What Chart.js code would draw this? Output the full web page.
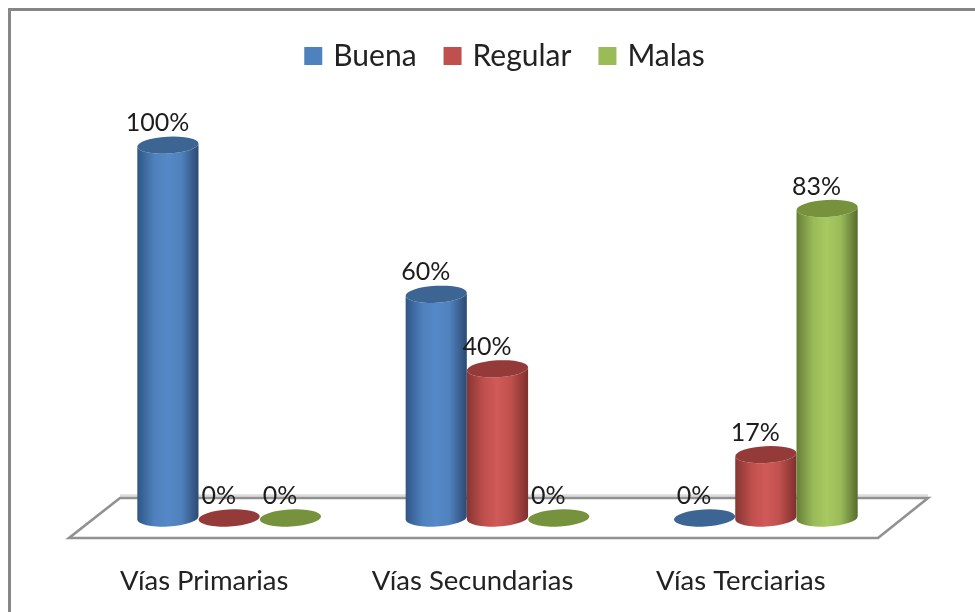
<!DOCTYPE html>
<html><head><meta charset="utf-8">
<style>html,body{margin:0;padding:0;background:#fff}canvas{display:block;filter:blur(0.45px)}</style>
<script src="https://cdn.jsdelivr.net/npm/chart.js@4"></script>
</head><body>
<canvas id="c" width="975" height="612"></canvas>
<script>
const categories = ["Vías Primarias", "Vías Secundarias", "Vías Terciarias"];
const seriesNames = ["Buena", "Regular", "Malas"];
const buena = [100, 60, 0];
const regular = [0, 40, 17];
const malas = [0, 0, 83];
const colors = ["#4f81bd", "#c0504d", "#9bbb59"];
const centers = ["#5588c8", "#d05a58", "#a8c861"];
const edgeL = ["#2f5686", "#873533", "#667f36"];
const edgeR = ["#2b4a72", "#7d302e", "#566c2c"];
const capColors = ["#3c6594", "#943b39", "#76923c"];
const FONT = "Lato";

const cylinders = {
  id: "cylinders",
  afterLayout(chart) {
    chart.legend.left += 9;
    chart.legend.right += 9;
  },
  beforeDraw(chart) {
    const { ctx, chartArea: a } = chart;
    ctx.save();
    ctx.fillStyle = "#fff"; ctx.fillRect(0, 0, chart.width, chart.height);
    ctx.fillStyle = "#868686";
    ctx.fillRect(8, 8, chart.width - 8, 3);
    ctx.fillRect(8, 8, 3, chart.height - 8);
    // floor
    const fy = a.bottom + 20, by = a.bottom - 20;
    const fl = a.left - 26, fr = a.right - 22, bl = a.left + 25, br = a.right + 28;
    ctx.strokeStyle = "#dcdcdc"; ctx.lineWidth = 2.5;
    ctx.beginPath(); ctx.moveTo(bl, by - 2.5); ctx.lineTo(br, by - 2.5); ctx.stroke();
    ctx.strokeStyle = "#919191"; ctx.lineWidth = 2.6;
    ctx.beginPath(); ctx.moveTo(bl, by); ctx.lineTo(br, by); ctx.lineTo(fr, fy); ctx.lineTo(fl, fy); ctx.closePath(); ctx.stroke();
    ctx.restore();
  },
  beforeDatasetsDraw(chart) {
    const { ctx } = chart;
    const tilt = -0.055, ry = 8.5;
    ctx.save();
    chart.data.datasets.forEach((ds, i) => {
      chart.getDatasetMeta(i).data.forEach((el, j) => {
        const { x, y, base, width } = el.getProps(["x", "y", "base", "width"], true);
        const rx = width / 2;
        if (ds.data[j] > 0) {
          const g = ctx.createLinearGradient(x - rx, 0, x + rx, 0);
          g.addColorStop(0, edgeL[i]);
          g.addColorStop(0.28, colors[i]);
          g.addColorStop(0.5, centers[i]);
          g.addColorStop(0.72, colors[i]);
          g.addColorStop(1, edgeR[i]);
          ctx.fillStyle = g;
          ctx.beginPath();
          ctx.ellipse(x, y, rx, ry, tilt, Math.PI, 0, true);
          ctx.ellipse(x, base, rx, ry, tilt, 0, Math.PI, false);
          ctx.closePath();
          ctx.fill();
        }
        ctx.fillStyle = capColors[i];
        ctx.beginPath();
        ctx.ellipse(x, y, rx, ry, tilt, 0, Math.PI * 2);
        ctx.fill();
      });
    });
    ctx.restore();
    return false;
  },
  afterDraw(chart) {
    const { ctx } = chart;
    ctx.save();
    ctx.font = "25px " + FONT;
    ctx.fillStyle = "#1c1c1c";
    ctx.textAlign = "center";
    ctx.textBaseline = "middle";
    chart.data.datasets.forEach((ds, i) => {
      chart.getDatasetMeta(i).data.forEach((el, j) => {
        ctx.fillText(ds.data[j] + "%", el.x - 10.5, el.y - 22);
      });
    });
    ctx.restore();
  }
};

new Chart(document.getElementById("c"), {
  type: "bar",
  data: {
    labels: categories,
    datasets: [
      { label: seriesNames[0], data: buena, backgroundColor: colors[0], borderWidth: 0 },
      { label: seriesNames[1], data: regular, backgroundColor: colors[1], borderWidth: 0 },
      { label: seriesNames[2], data: malas, backgroundColor: colors[2], borderWidth: 0 }
    ]
  },
  options: {
    responsive: false,
    animation: false,
    layout: { padding: { left: 95, right: 75, top: 10, bottom: 14 } },
    datasets: { bar: { barPercentage: 1, categoryPercentage: 0.685 } },
    scales: {
      x: {
        grid: { display: false },
        border: { display: false },
        afterFit(scale) { scale.height = 80; },
        ticks: { font: { family: FONT, size: 27.5 }, color: "#222", padding: 39, maxRotation: 0, labelOffset: -25 }
      },
      y: { display: false, min: 0, max: 117.2 }
    },
    plugins: {
      tooltip: { enabled: false },
      legend: {
        position: "top",
        labels: {
          font: { family: FONT, size: 30 }, color: "#222", boxWidth: 10, boxHeight: 10, padding: 31,
          generateLabels(chart) {
            return chart.data.datasets.map((d, i) => ({
              text: d.label, fillStyle: colors[i], strokeStyle: colors[i], lineWidth: 8,
              hidden: false, datasetIndex: i, fontColor: "#222"
            }));
          }
        }
      }
    }
  },
  plugins: [cylinders]
});
</script>
</body></html>
